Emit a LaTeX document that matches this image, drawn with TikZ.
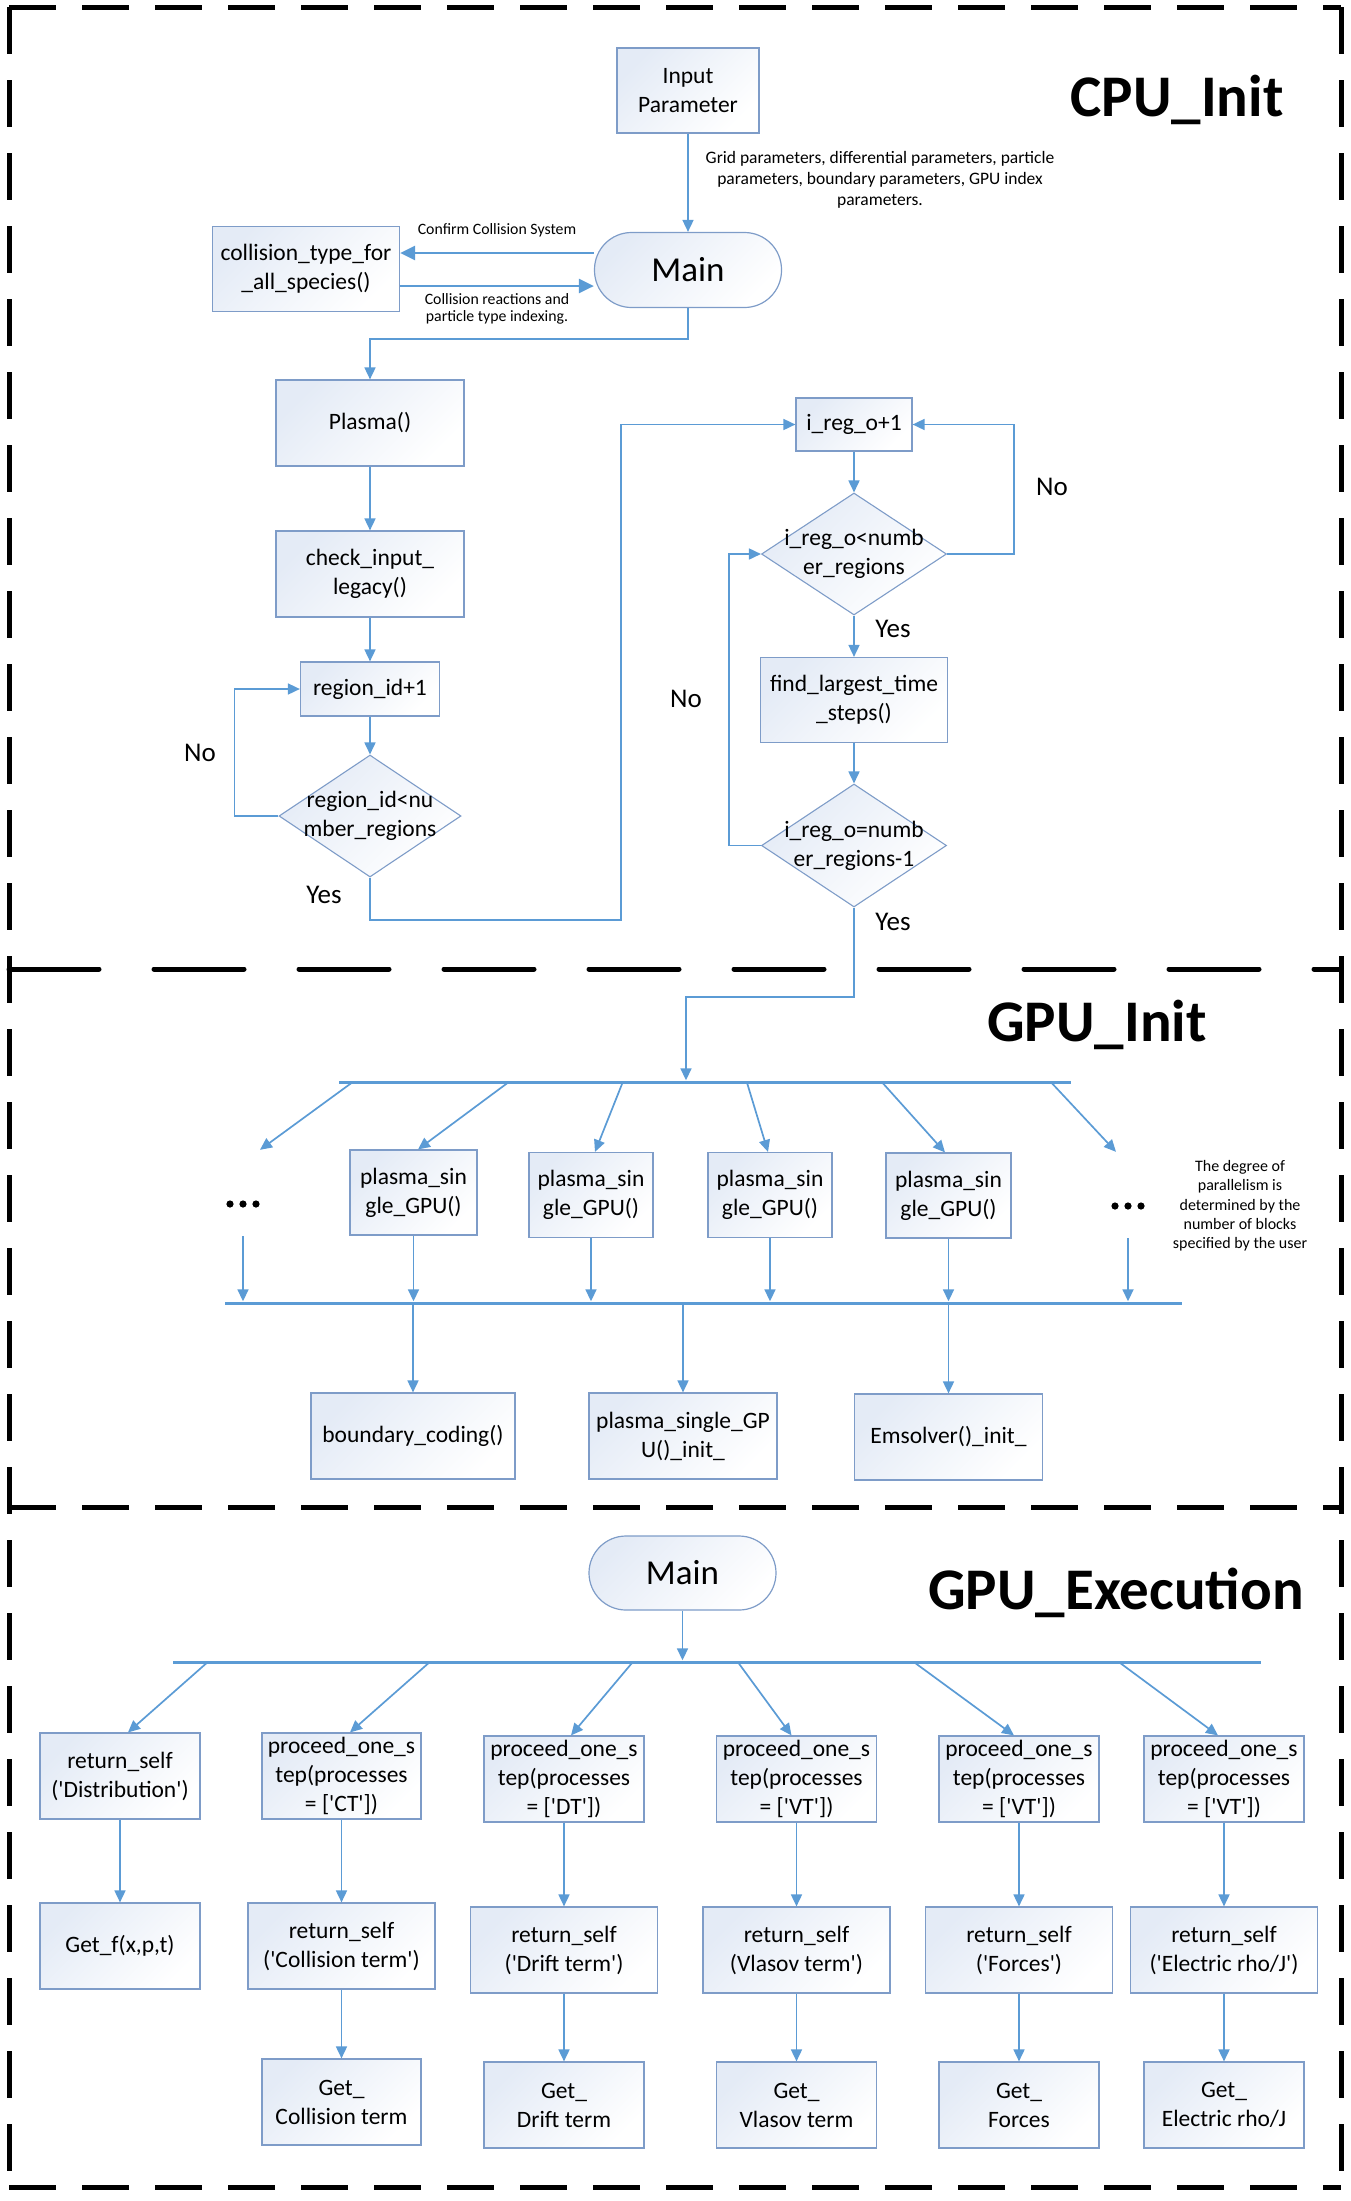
\documentclass[tikz,border=0pt]{standalone}
\usepackage{fontspec}
\setmainfont{Carlito}
\usetikzlibrary{shapes.geometric,arrows.meta,calc}
\definecolor{linkblue}{HTML}{5B9BD5}
\definecolor{edgeblue}{HTML}{7E9CC8}
\definecolor{tintblue}{HTML}{E4EBF6}
\newcommand{\q}{\textquotesingle}
\begin{document}
\begin{tikzpicture}[x=1pt,y=-1pt,
  font=\fontsize{23.5}{29}\selectfont,
  box/.style={draw=edgeblue, line width=1.2pt, top color=tintblue, bottom color=white,
    shading angle=45, align=center, inner sep=2pt},
  term/.style={box, rounded corners=37pt, font=\fontsize{35}{40}\selectfont},
  dia/.style={diamond, draw=edgeblue, line width=1.1pt, top color=tintblue, bottom color=white,
    shading angle=45, inner sep=0pt},
  arr/.style={draw=linkblue, line width=1.7pt, -{Triangle[length=12pt,width=11pt]}},
  bigarr/.style={draw=linkblue, line width=2.6pt, -{Triangle[length=15pt,width=14pt]}},
  bus/.style={fill=linkblue, inner sep=0pt, minimum height=3pt},
  dots/.style={inner sep=0pt, minimum width=44pt, minimum height=86pt,
    path picture={\foreach \dx in {-13,0,13}
      {\fill ([xshift=\dx pt, yshift=-11pt]path picture bounding box.center) circle (3.6pt);}}},
  lbl/.style={font=\fontsize{15.8}{17.5}\selectfont, align=center},
  gridlbl/.style={font=\fontsize{17.5}{21}\selectfont, align=center},
  note/.style={font=\fontsize{16}{19.3}\selectfont, align=center},
  yn/.style={font=\fontsize{27}{30}\selectfont},
  title/.style={font=\fontsize{59}{62}\selectfont\bfseries},
  frame/.style={draw=black, line width=5pt, dash pattern=on 47pt off 26pt}
]
\useasboundingbox (0,0) rectangle (1350,2201);

% ---------- section frames ----------
\draw[frame] (9,7) -- (1341,7);
\draw[frame] (9,7) -- (9,2187);
\draw[frame] (1341,7) -- (1341,2187);
\draw[frame] (9,2187) -- (1341,2187);
\draw[frame, dash pattern=on 90pt off 55pt, line cap=round] (9,969) -- (1341,969);
\draw[frame] (9,1507) -- (1341,1507);

% ---------- CPU_Init ----------
\node[title] (tcpu) at (1177,100) {CPU\_Init};
\node[box, minimum width=142pt, minimum height=85pt] (inp) at (688,90.5) {Input\\Parameter};
\node[term, minimum width=187pt, minimum height=75pt] (main) at (688,270) {Main};
\node[box, minimum width=187pt, minimum height=85pt] (coll) at (306,269) {collision\_type\_for\\\_all\_species()};
\node[box, minimum width=188pt, minimum height=86pt] (plasma) at (370,423) {Plasma()};
\node[box, minimum width=188pt, minimum height=86pt] (check) at (370,574) {check\_input\_\\legacy()};
\node[box, minimum width=139pt, minimum height=54pt] (rid) at (370,689) {region\_id+1};
\node[dia, minimum width=182pt, minimum height=122pt,
  label={[align=center]center:{region\_id<nu\\mber\_regions}}] (dia1) at (370,816) {};
\node[box, minimum width=116pt, minimum height=53pt] (ireg) at (854,424.5) {i\_reg\_o+1};
\node[dia, minimum width=185pt, minimum height=122pt,
  label={[align=center]center:{i\_reg\_o<numb\\er\_regions}}] (dia2) at (854,554) {};
\node[box, minimum width=187pt, minimum height=85pt] (find) at (854,700) {find\_largest\_time\\\_steps()};
\node[dia, minimum width=185pt, minimum height=123pt,
  label={[align=center]center:{i\_reg\_o=numb\\er\_regions-1}}] (dia3) at (854,845.5) {};

\node[gridlbl] (gridtxt) at (880,180) {Grid parameters, differential parameters, particle\\parameters, boundary parameters, GPU index\\parameters.};
\node[lbl] (conftxt) at (497,230) {Confirm Collision System};
\node[lbl] (colltxt) at (497,309) {Collision reactions and\\particle type indexing.};

\node[yn] (no1) at (200,753) {No};
\node[yn] (yes1) at (324,895) {Yes};
\node[yn] (no2) at (1052,487) {No};
\node[yn] (yes2) at (893,629) {Yes};
\node[yn] (no3) at (686,699) {No};
\node[yn] (yes3) at (893,922) {Yes};

\draw[arr] (inp) -- (main);
\coordinate (cA) at ([yshift=17pt]main.west);
\coordinate (cB) at ([yshift=-17pt]coll.east);
\draw[bigarr] (cA) -- (cA -| coll.east);
\draw[bigarr] (cB) -- (cB -| main.west);
\draw[arr] (main.south) -- ++(0,31) -| (plasma.north);
\draw[arr] (plasma) -- (check);
\draw[arr] (check) -- (rid);
\draw[arr] (rid) -- (dia1);
\draw[arr] (dia1.west) -- ++(-44,0) |- (rid.west);
\coordinate (yturn) at (621,920);
\draw[arr] (dia1.south) |- (yturn) |- (ireg.west);
\draw[arr] (ireg) -- (dia2);
\draw[arr] (dia2.east) -- ++(67,0) |- (ireg.east);
\draw[arr] (dia2) -- (find);
\draw[arr] (find) -- (dia3);
\draw[arr] (dia3.west) -- ++(-32,0) |- (dia2.west);

% ---------- GPU_Init ----------
\node[title] (tgi) at (1097,1025) {GPU\_Init};
\node[bus, minimum width=732pt] (bus1) at (705,1082) {};
\node[bus, minimum width=957pt] (bus2) at (703.5,1303) {};
\coordinate (gturn) at (686,997);
\draw[arr] (dia3.south) |- (gturn) -- (gturn |- bus1.north);

\node[dots] (dotsL) at (243,1193) {};
\node[box, minimum width=127pt, minimum height=85pt] (b1) at (413.5,1192.5) {plasma\_sin\\gle\_GPU()};
\node[box, minimum width=124pt, minimum height=85pt] (b2) at (591,1195) {plasma\_sin\\gle\_GPU()};
\node[box, minimum width=124pt, minimum height=85pt] (b3) at (770,1195) {plasma\_sin\\gle\_GPU()};
\node[box, minimum width=125pt, minimum height=85pt] (b4) at (948.5,1195.5) {plasma\_sin\\gle\_GPU()};
\node[dots] (dotsR) at (1128,1195) {};
\node[note] (notetxt) at (1240,1206) {The degree of\\parallelism is\\determined by the\\number of blocks\\specified by the user};

\draw[arr] ([xshift=14pt]bus1.west) -- ([xshift=17pt]dotsL.north);
\draw[arr] ([xshift=170pt]bus1.west) -- ([xshift=4.5pt]b1.north);
\draw[arr] ([xshift=284pt]bus1.west) -- ([xshift=4pt]b2.north);
\draw[arr] ([xshift=408pt]bus1.west) -- ([xshift=-2pt]b3.north);
\draw[arr] ([xshift=543pt]bus1.west) -- ([xshift=-3.5pt]b4.north);
\draw[arr] ([xshift=712pt]bus1.west) -- ([xshift=-12pt]dotsR.north);

\foreach \n in {dotsL,b1,b2,b3,b4,dotsR}
  \draw[arr] (\n.south) -- (\n.south |- bus2.north);

\node[box, minimum width=204pt, minimum height=86pt] (bot1) at (413,1436) {boundary\_coding()};
\node[box, minimum width=188pt, minimum height=86pt] (bot2) at (683,1436) {plasma\_single\_GP\\U()\_init\_};
\node[box, minimum width=188pt, minimum height=86pt] (bot3) at (948.5,1437) {Emsolver()\_init\_};
\foreach \n in {bot1,bot2,bot3}
  \draw[arr] (\n.north |- bus2.south) -- (\n.north);

% ---------- GPU_Execution ----------
\node[title] (tge) at (1116,1593) {GPU\_Execution};
\node[term, minimum width=187pt, minimum height=74pt] (main2) at (682.5,1573) {Main};
\node[bus, minimum width=1088pt] (bus3) at (717,1662) {};
\draw[arr] (main2.south) -- (main2.south |- bus3.north);

\node[box, minimum width=160pt, minimum height=86pt] (r1a) at (120,1776) {return\_self\\(\q Distribution\q)};
\node[box, minimum width=159pt, minimum height=86pt] (r1b) at (341.5,1776) {proceed\_one\_s\\tep(processes\\= [\q CT\q])};
\node[box, minimum width=160pt, minimum height=86pt] (r1c) at (564,1779) {proceed\_one\_s\\tep(processes\\= [\q DT\q])};
\node[box, minimum width=160pt, minimum height=86pt] (r1d) at (796.5,1779) {proceed\_one\_s\\tep(processes\\= [\q VT\q])};
\node[box, minimum width=160pt, minimum height=86pt] (r1e) at (1019,1779) {proceed\_one\_s\\tep(processes\\= [\q VT\q])};
\node[box, minimum width=160pt, minimum height=86pt] (r1f) at (1224,1779) {proceed\_one\_s\\tep(processes\\= [\q VT\q])};

\node[box, minimum width=160pt, minimum height=86pt] (r2a) at (120,1946) {Get\_f(x,p,t)};
\node[box, minimum width=187pt, minimum height=86pt] (r2b) at (341.5,1946) {return\_self\\(\q Collision term\q)};
\node[box, minimum width=187pt, minimum height=86pt] (r2c) at (564,1950) {return\_self\\(\q Drift term\q)};
\node[box, minimum width=187pt, minimum height=86pt] (r2d) at (796.5,1950) {return\_self\\(Vlasov term\q)};
\node[box, minimum width=187pt, minimum height=86pt] (r2e) at (1019,1950) {return\_self\\(\q Forces\q)};
\node[box, minimum width=187pt, minimum height=86pt] (r2f) at (1224,1950) {return\_self\\(\q Electric rho/J\q)};

\node[box, minimum width=159pt, minimum height=86pt] (r3b) at (341.5,2102) {Get\_\\Collision term};
\node[box, minimum width=160pt, minimum height=86pt] (r3c) at (564,2105) {Get\_\\Drift term};
\node[box, minimum width=160pt, minimum height=86pt] (r3d) at (796.5,2105) {Get\_\\Vlasov term};
\node[box, minimum width=160pt, minimum height=86pt] (r3e) at (1019,2105) {Get\_\\Forces};
\node[box, minimum width=160pt, minimum height=86pt] (r3f) at (1224,2105) {Get\_\\Electric rho/J};

\draw[arr] ([xshift=35pt]bus3.west) -- ([xshift=8pt]r1a.north);
\draw[arr] ([xshift=257pt]bus3.west) -- ([xshift=8.5pt]r1b.north);
\draw[arr] ([xshift=460pt]bus3.west) -- ([xshift=7pt]r1c.north);
\draw[arr] ([xshift=565pt]bus3.west) -- ([xshift=-5pt]r1d.north);
\draw[arr] ([xshift=741pt]bus3.west) -- ([xshift=-5pt]r1e.north);
\draw[arr] ([xshift=946pt]bus3.west) -- ([xshift=-6pt]r1f.north);

\draw[arr] (r1a) -- (r2a);
\foreach \c in {b,c,d,e,f} {
  \draw[arr] (r1\c) -- (r2\c);
  \draw[arr] (r2\c) -- (r3\c);
}
\end{tikzpicture}
\end{document}
